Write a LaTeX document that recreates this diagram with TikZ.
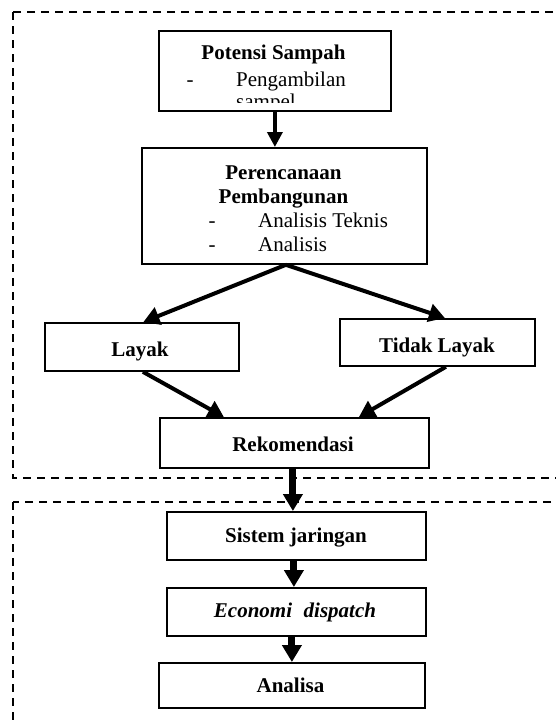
\documentclass[tikz,border=0pt]{standalone}
\usepackage{fontspec}
\setmainfont{Liberation Serif}
\usetikzlibrary{arrows.meta}
\begin{document}
\begin{tikzpicture}[x=1pt,y=-1pt,
  box/.style={draw,line width=1.8pt,inner sep=0,anchor=north west},
  ttl/.style={inner sep=0,anchor=base,font=\fontsize{21}{24}\selectfont\bfseries},
  itm/.style={inner sep=0,anchor=base west,font=\fontsize{21}{24}\selectfont},
  dbox/.style={line width=1.5pt,dash pattern=on 8pt off 6pt},
  arr/.style={line width=3.5pt,-{Triangle[width=15pt,length=15pt]}},
  darr/.style={line width=4pt,-{Triangle[width=18pt,length=16pt]}},
  barr/.style={line width=7pt,-{Triangle[width=19pt,length=17pt]}}]
\clip (0,0) rectangle (556,726);
\fill[white] (0,0) rectangle (556,726);
% dashed frames
\draw[dbox] (13,12) rectangle (580,478);
\draw[dbox] (13,502) rectangle (580,750);
% boxes
\node[box,minimum width=232pt,minimum height=80pt] (p) at (158,30) {};
\node[box,minimum width=285pt,minimum height=116pt] (q) at (141,147) {};
\node[box,minimum width=194pt,minimum height=48pt] (l) at (44,322) {};
\node[box,minimum width=195pt,minimum height=47pt] (t) at (339,318) {};
\node[box,minimum width=269pt,minimum height=50pt] (r) at (159,417) {};
\node[box,minimum width=259pt,minimum height=48pt] (s) at (166,511) {};
\node[box,minimum width=259pt,minimum height=48pt] (e) at (166,587) {};
\node[box,minimum width=266pt,minimum height=45pt] (a) at (158,662) {};
% texts box 1 (clipped)
\begin{scope}
\clip (159,31) rectangle (389,102);
\node[ttl] (p1) at (273.5,59.5) {Potensi Sampah};
\node[itm] (p2a) at (186.5,86) {-};
\node[itm] (p2b) at (236,86) {Pengambilan};
\node[itm] (p3b) at (236,108.5) {sampel};
\end{scope}
% texts box 2
\node[ttl] (q1) at (283.5,179) {Perencanaan};
\node[ttl] (q2) at (283.5,203) {Pembangunan};
\node[itm] (q3a) at (208.5,227) {-};
\node[itm] (q3b) at (258,227) {Analisis Teknis};
\node[itm] (q4a) at (208.5,251.5) {-};
\node[itm] (q4b) at (258,251.5) {Analisis};
% other texts
\node[ttl] (lt) at (140,356.5) {Layak};
\node[ttl] (tt) at (437,352.5) {Tidak Layak};
\node[ttl] (rt) at (293,451.5) {Rekomendasi};
\node[ttl] (st) at (296,542) {Sistem jaringan};
\node[ttl,font=\fontsize{21}{24}\selectfont\bfseries\itshape] (et) at (295,617.5) {Economi\hspace{0.3em} dispatch};
\node[ttl] (at) at (290.5,692.5) {Analisa};
% arrows
\draw[arr] (p.south) -- (p.south |- q.north);
\draw[darr] ([xshift=1.5pt]q.south) -- ([xshift=1.5pt]l.north);
\draw[darr] ([xshift=1.5pt]q.south) -- ([xshift=7.5pt]t.north);
\draw[darr] ([xshift=1pt]l.south) -- ([xshift=-70.5pt]r.north);
\draw[darr] ([xshift=8.5pt]t.south) -- ([xshift=64.5pt]r.north);
\draw[barr] ([xshift=-1.5pt]r.south) -- ([xshift=-1.5pt]r.south |- s.north);
\draw[barr] ([xshift=-2.5pt]s.south) -- ([xshift=-2.5pt]e.north);
\draw[barr] ([xshift=-4.5pt]e.south) -- (a.north);
\end{tikzpicture}
\end{document}
